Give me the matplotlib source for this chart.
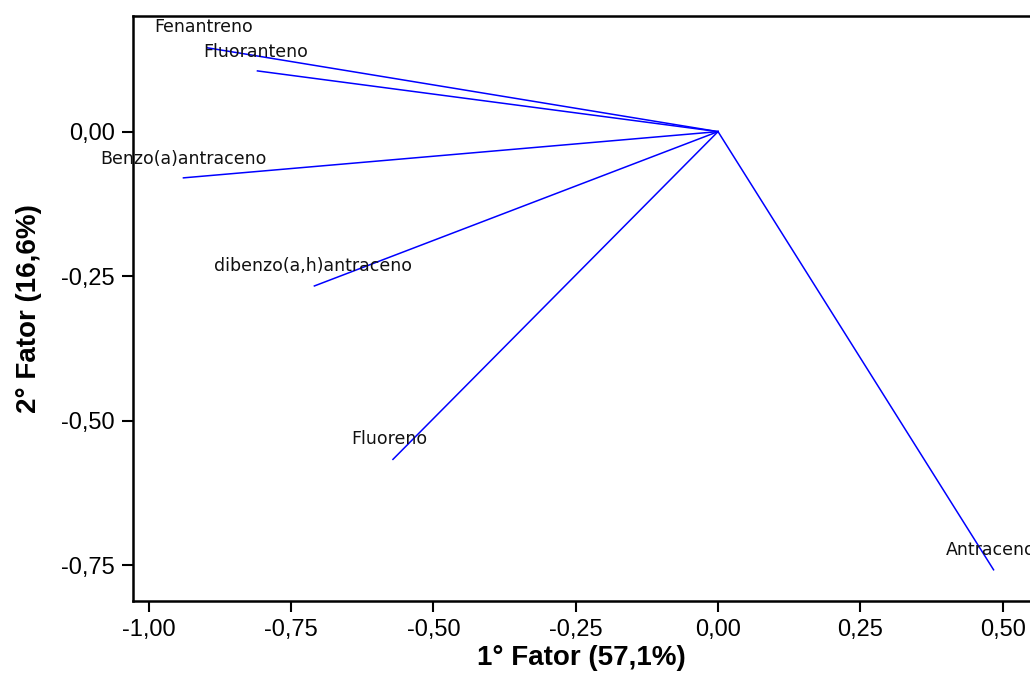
import matplotlib
matplotlib.use("Agg")
import matplotlib.pyplot as plt
from matplotlib.ticker import FuncFormatter

# Loadings (factor 1, factor 2)
names = ["Fenantreno", "Fluoranteno", "Benzo(a)antraceno",
         "dibenzo(a,h)antraceno", "Fluoreno", "Antraceno"]
factor1 = [-0.897, -0.809, -0.939, -0.709, -0.571, 0.484]
factor2 = [0.145, 0.105, -0.080, -0.267, -0.567, -0.758]
# label anchor positions (data coords, left / center)
label_x = [-0.991, -0.905, -1.085, -0.886, -0.645, 0.400]
label_y = [0.181, 0.1375, -0.048, -0.233, -0.532, -0.723]

xticks = [-1.0, -0.75, -0.5, -0.25, 0.0, 0.25, 0.5]
yticks = [0.0, -0.25, -0.5, -0.75]

fig = plt.figure(figsize=(10.3, 6.8), dpi=100)
ax = fig.add_axes([133 / 1030, 79 / 680, 1 - 133 / 1030, (601 - 16) / 680])

for x, y in zip(factor1, factor2):
    ax.plot([0, x], [0, y], color="#0000ff", lw=1.1)

for n, lx, ly in zip(names, label_x, label_y):
    ax.text(lx, ly, n, ha="left", va="center", fontsize=12.5,
            family="DejaVu Sans", color="#111111", clip_on=False)

ax.set_xlim(-1.0276, 0.548)
ax.set_ylim(-0.812, 0.2)
ax.set_xticks(xticks)
ax.set_yticks(yticks)
fmt = FuncFormatter(lambda v, p: f"{v:.2f}".replace(".", ",").replace("-0,00", "0,00"))
ax.xaxis.set_major_formatter(fmt)
ax.yaxis.set_major_formatter(fmt)

for lab in ax.get_xticklabels() + ax.get_yticklabels():
    lab.set_family("Liberation Sans")
    lab.set_fontsize(17)
ax.tick_params(axis="both", direction="out", length=8, width=1.5, pad=5, colors="black")
for s in ["left", "bottom", "top"]:
    ax.spines[s].set_linewidth(1.8)
ax.spines["right"].set_visible(False)

ax.set_xlabel("1° Fator (57,1%)", fontsize=20, fontweight="bold",
              family="Liberation Sans", labelpad=3)
ax.set_ylabel("2° Fator (16,6%)", fontsize=20, fontweight="bold",
              family="Liberation Sans", labelpad=14)

fig.savefig("out.png", dpi=100)
